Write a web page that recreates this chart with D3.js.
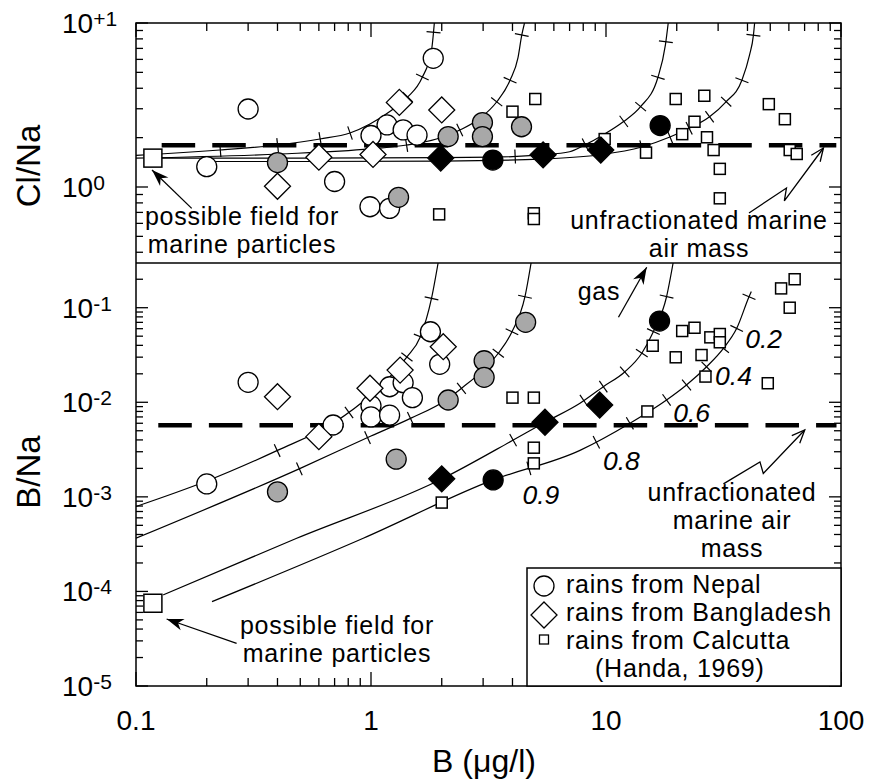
<!DOCTYPE html>
<html><head><meta charset="utf-8">
<script src="https://cdn.jsdelivr.net/npm/d3@7"></script>
<style>
body{margin:0;background:#fff;}
text{font-family:"Liberation Sans",Arial,Helvetica,sans-serif;fill:#000;}
</style></head>
<body><svg id="c" width="871" height="783"></svg>
<script>
// ---------------- DATA ----------------
const xTickVals = [0.1, 1, 10, 100];
const xTickLabels = ["0.1", "1", "10", "100"];
const topTickVals = [10, 1];
const topTickExp = ["+1", "0"];
const botTickVals = [1e-1, 1e-2, 1e-3, 1e-4, 1e-5];
const botTickExp = ["-1", "-2", "-3", "-4", "-5"];

// reference values
const marineB = 0.118, marineClNa = 1.5, marineBNa = 7.5e-5;
const seaClNa = 1.8, seaBNa = 0.0057;

// Top panel: Cl/Na vs B
const nepalB1 = [0.3, 0.2, 1.84, 1.17, 1.37, 1.0, 1.57, 0.70, 0.99, 1.2];
const nepalClNa = [2.99, 1.33, 6.09, 2.39, 2.23, 2.06, 2.07, 1.08, 0.758, 0.741];
const grayB1 = [0.40, 1.31, 2.13, 2.98, 2.98, 4.37];
const grayClNa = [1.41, 0.865, 2.03, 2.47, 2.03, 2.33];
const blackCircB1 = [3.3, 17.0];
const blackCircClNa = [1.46, 2.37];
const bangB1 = [0.4, 1.32, 2.0, 0.60, 1.02];
const bangClNa = [1.01, 3.28, 2.95, 1.52, 1.58];
const blackDiaB1 = [1.98, 5.4, 9.5];
const blackDiaClNa = [1.50, 1.57, 1.68];
const calcB1 = [4.0, 5.0, 1.95, 4.93, 4.93, 9.87, 14.8, 19.8, 26.2, 21.1, 23.8, 26.9, 28.7, 30.5, 30.5, 49.3, 57.7, 60.5, 64.8];
const calcClNa = [2.88, 3.44, 0.681, 0.691, 0.638, 1.96, 1.62, 3.44, 3.60, 2.10, 2.50, 2.01, 1.68, 1.29, 0.853, 3.20, 2.59, 1.68, 1.59];

// Bottom panel: B/Na vs B
const nepalB2 = [0.3, 0.2, 0.69, 1.0, 1.0, 1.2, 1.2, 1.37, 1.5, 1.79, 1.96];
const nepalBNa = [0.01625, 0.00137, 0.00575, 0.0092, 0.0070, 0.0073, 0.0146, 0.0161, 0.0112, 0.0557, 0.0252];
const grayB2 = [0.4, 1.28, 2.13, 3.03, 3.03, 4.55];
const grayBNa = [0.00113, 0.0025, 0.01057, 0.0275, 0.01836, 0.0701];
const blackCircB2 = [3.31, 16.9];
const blackCircBNa = [0.00151, 0.0723];
const bangB2 = [0.4, 0.6, 0.99, 1.33, 2.03];
const bangBNa = [0.01146, 0.00433, 0.01406, 0.0219, 0.0387];
const blackDiaB2 = [2.0, 5.5, 9.4];
const blackDiaBNa = [0.00155, 0.00615, 0.00936];
const calcB2 = [2.0, 4.0, 4.93, 4.93, 4.93, 15.8, 21.1, 23.8, 27.8, 30.5, 30.5, 19.8, 25.5, 26.5, 48.8, 55.6, 63.5, 60.5, 15.0];
const calcBNa = [0.00087, 0.0112, 0.0112, 0.00331, 0.00226, 0.0396, 0.0567, 0.0614, 0.0486, 0.0527, 0.0431, 0.0299, 0.0316, 0.0187, 0.0159, 0.160, 0.200, 0.100, 0.0080];

// model curves [B, ratio]
const curveA_top = [[0.1,1.56],[0.1265,1.589],[0.2277,1.681],[0.4013,1.803],[0.6066,1.962],[0.8135,2.134],[0.99,2.421],[1.228,2.949],[1.434,3.54],[1.647,4.62],[1.81,6.84],[1.86,10]];
const curveB_top = [[0.1,1.50],[0.41,1.589],[0.99,1.706],[1.42,1.803],[1.9,1.962],[2.39,2.227],[2.92,2.633],[3.43,3.31],[3.91,4.49],[4.22,6.12],[4.38,8.43],[4.5,10]];
const curveC_top = [[0.1286,1.50],[0.5,1.50],[2.0,1.51],[3.3,1.52],[5.3,1.57],[7.0,1.64],[8.1,1.80],[9.87,2.105],[11.8,2.49],[14.0,3.075],[16.6,4.62],[17.9,7.35],[18.4,10]];
const curveD_top = [[0.211,1.43],[0.5,1.43],[2.0,1.44],[5.3,1.48],[9.2,1.567],[14.2,1.753],[18.7,2.016],[22.6,2.28],[27.5,2.67],[32.4,3.3],[37.9,4.49],[40.8,6.37],[42.4,8.43],[42.9,10]];

const curveA_bot = [[0.1,7.9e-4],[0.2,1.47e-3],[0.4,3.1e-3],[0.69,6.0e-3],[1.0,1.2e-2],[1.42,3.0e-2],[1.62,4.9e-2],[1.81,0.126],[1.93,0.297]];
const curveB_bot = [[0.1,3.65e-4],[0.5,2.0e-3],[1.0,4.4e-3],[1.48,6.8e-3],[2.09,0.0106],[2.43,0.0141],[3.0,0.0219],[3.48,0.033],[3.98,0.0557],[4.52,0.1306],[4.8,0.297]];
const curveC_bot = [[0.1306,9.2e-5],[0.483,3.65e-4],[2.0,1.545e-3],[4.03,3.99e-3],[5.5,6.15e-3],[7.75,9.76e-3],[9.74,0.01462],[12.04,0.02104],[14.2,0.033],[15.9,0.0557],[18.1,0.1306],[19.3,0.297]];
const curveD_bot = [[0.2106,7.8e-5],[0.927,3.65e-4],[3.31,1.51e-3],[7.75,3.1e-3],[12.65,6.0e-3],[18.1,0.01057],[22.0,0.01524],[26.8,0.02377],[31.6,0.0372],[36.0,0.0605],[40.6,0.1306],[41.5,0.148]];

// tick marks along curves [B, ratio]
const ticksA_top = [[0.228,1.681],[0.401,1.803],[0.607,2.0],[0.814,2.134],[1.43,3.54],[1.65,4.68],[1.81,8.8]];
const ticksB_top = [[1.42,1.803],[2.39,2.227],[3.43,3.31],[3.91,4.49],[4.38,8.43]];
const ticksC_top = [[4.11,1.53],[8.0,1.935],[11.9,2.5],[14.0,3.09],[16.4,4.7],[17.9,7.69]];
const ticksD_top = [[14.2,1.76],[18.7,2.027],[22.6,2.28],[27.5,2.68],[32.4,3.31],[37.9,4.49],[42.4,8.43]];
const ticksA_bot = [[0.2,1.47e-3],[0.397,3.13e-3],[0.79,8.3e-3],[1.42,0.0303],[1.616,0.0493],[1.81,0.126]];
const ticksB_bot = [[0.506,1.78e-3],[0.99,3.69e-3],[1.48,6.5e-3],[2.43,0.01406],[3.48,0.033],[3.98,0.0557],[4.52,0.1306]];
const ticksC_bot = [[4.03,3.99e-3],[8.1,0.01014],[9.74,0.01462],[12.0,0.021],[14.2,0.033],[15.9,0.0557],[18.1,0.1306]];
const ticksD_bot = [[4.68,2.07e-3],[9.13,3.69e-3],[12.6,6.0e-3],[18.1,0.01057],[22.0,0.01524],[26.8,0.02377],[31.6,0.0372],[36.0,0.0605],[40.6,0.1306]];

const fracLabels = ["0.9", "0.8", "0.6", "0.4", "0.2"];
const fracLabelTick = [0, 1, 3, 5, 7];

const legendLabels = ["rains from Nepal", "rains from Bangladesh", "rains from Calcutta", "(Handa, 1969)"];

// ---------------- LAYOUT ----------------
const L = 136, R = 841, T = 23, MID = 263, BOT = 686;
const FS = 25, LS = 0.75, LH = 28;
const svg = d3.select("#c");
const x = d3.scaleLog().domain([0.1, 100]).range([L, R]);
const yT = d3.scaleLog().domain([0.344, 10]).range([MID, T]);
const yB = d3.scaleLog().domain([1e-5, 0.297]).range([BOT, MID]);

const defs = svg.append("defs");
defs.append("clipPath").attr("id", "clipT").append("rect").attr("x", L).attr("y", T).attr("width", R - L).attr("height", MID - T);
defs.append("clipPath").attr("id", "clipB").append("rect").attr("x", L).attr("y", MID).attr("width", R - L).attr("height", BOT - MID);
defs.append("marker").attr("id", "headF").attr("viewBox", "-20 -10 22 20").attr("refX", 0).attr("refY", 0)
  .attr("markerWidth", 22).attr("markerHeight", 20).attr("markerUnits", "userSpaceOnUse").attr("orient", "auto")
  .append("path").attr("d", "M0,0 L-17,-6 L-12,0 L-17,6 Z").attr("fill", "#000");
defs.append("marker").attr("id", "headV").attr("viewBox", "-20 -10 22 20").attr("refX", 0).attr("refY", 0)
  .attr("markerWidth", 22).attr("markerHeight", 20).attr("markerUnits", "userSpaceOnUse").attr("orient", "auto")
  .append("path").attr("d", "M-13,-5.5 L0,0 L-13,5.5").attr("fill", "none").attr("stroke", "#000").attr("stroke-width", 1.3);

// ---------------- AXES / FRAME ----------------
const axG = svg.append("g").attr("stroke", "#000").attr("stroke-width", 1.3);
function isMajor(v) { const l = Math.log10(v); return Math.abs(l - Math.round(l)) < 1e-6; }
x.ticks().forEach(v => {
  const len = isMajor(v) ? 14 : 8;
  axG.append("line").attr("x1", x(v)).attr("x2", x(v)).attr("y1", T).attr("y2", T + len);
  axG.append("line").attr("x1", x(v)).attr("x2", x(v)).attr("y1", BOT).attr("y2", BOT - len);
});
yT.ticks().forEach(v => {
  const len = isMajor(v) ? 12 : 7;
  axG.append("line").attr("x1", L).attr("x2", L + len).attr("y1", yT(v)).attr("y2", yT(v));
  axG.append("line").attr("x1", R).attr("x2", R - len).attr("y1", yT(v)).attr("y2", yT(v));
});
yB.ticks().forEach(v => {
  const len = isMajor(v) ? 12 : 7;
  axG.append("line").attr("x1", L).attr("x2", L + len).attr("y1", yB(v)).attr("y2", yB(v));
  axG.append("line").attr("x1", R).attr("x2", R - len).attr("y1", yB(v)).attr("y2", yB(v));
});
svg.append("rect").attr("x", L).attr("y", T).attr("width", R - L).attr("height", BOT - T)
  .attr("fill", "none").attr("stroke", "#000").attr("stroke-width", 1.5);
svg.append("line").attr("x1", L).attr("x2", R).attr("y1", MID).attr("y2", MID).attr("stroke", "#000").attr("stroke-width", 1.3);

function powLabel(yPix, exp) {
  const t = svg.append("text").attr("x", 62).attr("y", yPix + 10).attr("font-size", 28);
  t.append("tspan").text("10");
  t.append("tspan").attr("dy", -7).attr("font-size", 21).text(exp);
}
topTickVals.forEach((v, i) => powLabel(yT(v), topTickExp[i]));
botTickVals.forEach((v, i) => powLabel(yB(v), botTickExp[i]));
xTickVals.forEach((v, i) => {
  svg.append("text").attr("x", x(v)).attr("y", 730).attr("text-anchor", "middle").attr("font-size", 28).text(xTickLabels[i]);
});
svg.append("text").attr("transform", "translate(40," + ((T + MID) / 2 + 23) + ") rotate(-90)")
  .attr("text-anchor", "middle").attr("font-size", 33).text("Cl/Na");
svg.append("text").attr("transform", "translate(40,472) rotate(-90)")
  .attr("text-anchor", "middle").attr("font-size", 33).text("B/Na");
svg.append("text").attr("x", 484).attr("y", 772).attr("text-anchor", "middle").attr("font-size", 32).text("B (\u03bcg/l)");

// ---------------- CURVES ----------------
const gT = svg.append("g").attr("clip-path", "url(#clipT)");
const gBt = svg.append("g").attr("clip-path", "url(#clipB)");
function drawCurve(g, data, y, ticks) {
  const line = d3.line().x(d => x(d[0])).y(d => y(d[1])).curve(d3.curveMonotoneX);
  const p = g.append("path").attr("d", line(data)).attr("fill", "none").attr("stroke", "#000").attr("stroke-width", 1.2);
  const node = p.node(), len = node.getTotalLength();
  const samples = [];
  for (let s = 0; s <= len; s += 0.5) samples.push([s, node.getPointAtLength(s)]);
  const out = [];
  ticks.forEach(t => {
    const px = x(t[0]), py = y(t[1]);
    let best = 0, bd = 1e12;
    samples.forEach(([s, q]) => { const d = (q.x - px) ** 2 + (q.y - py) ** 2; if (d < bd) { bd = d; best = s; } });
    const q = node.getPointAtLength(best);
    const a = node.getPointAtLength(Math.max(0, best - 3)), b = node.getPointAtLength(Math.min(len, best + 3));
    let dx = b.x - a.x, dy = b.y - a.y; const n = Math.hypot(dx, dy) || 1; dx /= n; dy /= n;
    const h = 7;
    g.append("line").attr("x1", q.x - dy * h).attr("y1", q.y + dx * h).attr("x2", q.x + dy * h).attr("y2", q.y - dx * h)
      .attr("stroke", "#000").attr("stroke-width", 1.2);
    out.push(q);
  });
  return out;
}
drawCurve(gT, curveA_top, yT, ticksA_top);
drawCurve(gT, curveB_top, yT, ticksB_top);
drawCurve(gT, curveC_top, yT, ticksC_top);
drawCurve(gT, curveD_top, yT, ticksD_top);
drawCurve(gBt, curveA_bot, yB, ticksA_bot);
drawCurve(gBt, curveB_bot, yB, ticksB_bot);
drawCurve(gBt, curveC_bot, yB, ticksC_bot);
const dTicks = drawCurve(gBt, curveD_bot, yB, ticksD_bot);

svg.append("line").attr("x1", x(0.1286)).attr("x2", x(95.5)).attr("y1", yT(seaClNa)).attr("y2", yT(seaClNa))
  .attr("stroke", "#000").attr("stroke-width", 4.5).attr("stroke-dasharray", "33.5,17.1");
svg.append("line").attr("x1", x(0.1244)).attr("x2", x(95.7)).attr("y1", yB(seaBNa)).attr("y2", yB(seaBNa))
  .attr("stroke", "#000").attr("stroke-width", 4.5).attr("stroke-dasharray", "33.5,17.1");

// ---------------- MARKERS ----------------
function circles(B, V, y, fill) {
  B.forEach((b, i) => svg.append("circle").attr("cx", x(b)).attr("cy", y(V[i])).attr("r", 10)
    .attr("fill", fill).attr("stroke", "#000").attr("stroke-width", 1.3));
}
function diamonds(B, V, y, fill) {
  B.forEach((b, i) => {
    const cx = x(b), cy = y(V[i]), h = 13;
    svg.append("path").attr("d", `M${cx},${cy - h}L${cx + h},${cy}L${cx},${cy + h}L${cx - h},${cy}Z`)
      .attr("fill", fill).attr("stroke", "#000").attr("stroke-width", 1.3);
  });
}
function squares(B, V, y, s) {
  B.forEach((b, i) => svg.append("rect").attr("x", x(b) - s / 2).attr("y", y(V[i]) - s / 2).attr("width", s).attr("height", s)
    .attr("fill", "#fff").attr("stroke", "#000").attr("stroke-width", 1.5));
}
squares(calcB1, calcClNa, yT, 11);
circles(nepalB1, nepalClNa, yT, "#fff");
circles(grayB1, grayClNa, yT, "#a8a8a8");
diamonds(bangB1, bangClNa, yT, "#fff");
diamonds(blackDiaB1, blackDiaClNa, yT, "#000");
circles(blackCircB1, blackCircClNa, yT, "#000");
squares([marineB], [marineClNa], yT, 18);
squares(calcB2, calcBNa, yB, 11);
circles(nepalB2, nepalBNa, yB, "#fff");
circles(grayB2, grayBNa, yB, "#a8a8a8");
diamonds(bangB2, bangBNa, yB, "#fff");
diamonds(blackDiaB2, blackDiaBNa, yB, "#000");
circles(blackCircB2, blackCircBNa, yB, "#000");
squares([marineB], [marineBNa], yB, 18);

// ---------------- ANNOTATIONS ----------------
function arrow(pts, y, head) {
  const line = d3.line().x(d => x(d[0])).y(d => y(d[1]));
  svg.append("path").attr("d", line(pts)).attr("fill", "none").attr("stroke", "#000").attr("stroke-width", 1.3)
    .attr("marker-end", `url(#${head})`);
}
arrow([[0.1726, 0.741], [0.117, 1.27]], yT, "headF");
arrow([[40.6, 0.694], [58.6, 0.986], [57.4, 0.822], [84.2, 1.729]], yT, "headV");
arrow([[0.268, 2.83e-5], [0.135, 5.11e-5]], yB, "headF");
arrow([[11.3, 0.0793], [14.9, 0.2676]], yB, "headF");
arrow([[31.6, 1.37e-3], [45.2, 2.34e-3], [46.7, 1.77e-3], [70.1, 5.09e-3]], yB, "headV");

function label(lines, cx, y0) {
  const t = svg.append("text").attr("text-anchor", "middle").attr("font-size", FS).attr("letter-spacing", LS);
  lines.forEach((s, i) => t.append("tspan").attr("x", cx).attr("y", y0 + i * LH).text(s));
}
label(["possible field for", "marine particles"], 242, 225);
label(["unfractionated marine", "air mass"], 699, 229);
label(["possible field for", "marine particles"], 337, 634);
label(["unfractionated", "marine air", "mass"], 732, 501);
label(["gas"], 599, 300);
const fracOff = [[12, 36], [25, 28], [25, 22], [27, 18], [27, 20]];
fracLabels.forEach((s, i) => {
  const q = dTicks[fracLabelTick[i]];
  svg.append("text").attr("x", q.x + fracOff[i][0]).attr("y", q.y + fracOff[i][1]).attr("text-anchor", "middle")
    .attr("font-size", 26.5).attr("font-style", "italic").text(s);
});

// ---------------- LEGEND ----------------
const lg = svg.append("g");
lg.append("rect").attr("x", 527).attr("y", 568).attr("width", R - 527).attr("height", BOT - 568)
  .attr("fill", "#fff").attr("stroke", "#000").attr("stroke-width", 1.5);
lg.append("circle").attr("cx", 544).attr("cy", 586).attr("r", 10).attr("fill", "#fff").attr("stroke", "#000").attr("stroke-width", 1.3);
lg.append("path").attr("d", "M544,602L557,615L544,628L531,615Z").attr("fill", "#fff").attr("stroke", "#000").attr("stroke-width", 1.3);
lg.append("rect").attr("x", 539.5).attr("y", 635).attr("width", 9).attr("height", 9).attr("fill", "#fff").attr("stroke", "#000").attr("stroke-width", 1.3);
const lt = lg.append("text").attr("font-size", FS).attr("letter-spacing", LS);
lt.append("tspan").attr("x", 566).attr("y", 593).text(legendLabels[0]);
lt.append("tspan").attr("x", 566).attr("y", 621).text(legendLabels[1]);
lt.append("tspan").attr("x", 566).attr("y", 649).text(legendLabels[2]);
lt.append("tspan").attr("x", 595).attr("y", 677).text(legendLabels[3]);
</script></body></html>
